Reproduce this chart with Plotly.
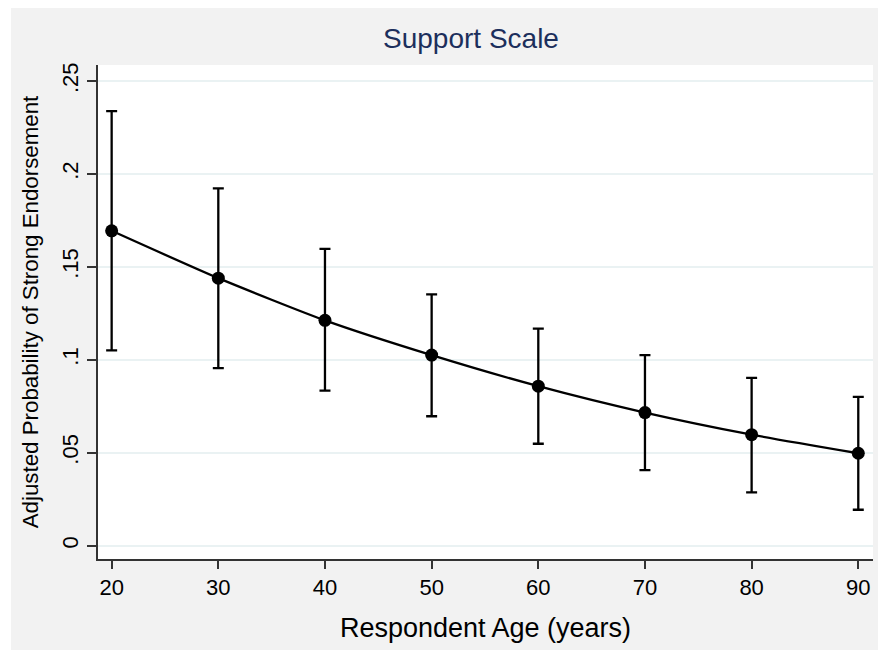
import plotly.graph_objects as go

ages = [20, 30, 40, 50, 60, 70, 80, 90]
prob = [0.1694, 0.1439, 0.1212, 0.1025, 0.0858, 0.0716, 0.0597, 0.0497]
ci_upper = [0.2338, 0.1922, 0.1597, 0.1352, 0.1168, 0.1025, 0.0903, 0.0800]
ci_lower = [0.1050, 0.0955, 0.0834, 0.0696, 0.0548, 0.0406, 0.0287, 0.0193]

y_tickvals = [0, 0.05, 0.1, 0.15, 0.2, 0.25]
y_ticktext = ["0", ".05", ".1", ".15", ".2", ".25"]
x_tickvals = [20, 30, 40, 50, 60, 70, 80, 90]

err_plus = [u - p for u, p in zip(ci_upper, prob)]
err_minus = [p - l for p, l in zip(prob, ci_lower)]

fig = go.Figure()
fig.add_trace(go.Scatter(
    x=ages, y=prob, mode="lines+markers",
    line=dict(color="black", width=2.3, shape="spline", smoothing=0.6),
    marker=dict(color="black", size=13),
    error_y=dict(type="data", symmetric=False, array=err_plus, arrayminus=err_minus,
                 color="black", thickness=2.3, width=5.5),
    showlegend=False,
))

FONT = "Liberation Sans, Arial, sans-serif"
# page has an 8px body margin, so the figure is drawn 8px right/down
W, H = 878, 642
L, R, T, B = 90, 13, 57, 91
pw, ph = W - L - R, H - T - B

def fx(px):
    return (px - L) / pw

def fy(py):
    return (H - B - py) / ph

shapes = [
    dict(type="rect", xref="paper", yref="paper", x0=fx(0), x1=fx(3), y0=fy(H), y1=fy(0),
         fillcolor="white", line=dict(width=0), layer="below"),
]

fig.update_layout(
    width=W, height=H,
    margin=dict(l=L, r=R, t=T, b=B),
    paper_bgcolor="#f2f2f2",
    plot_bgcolor="white",
    font=dict(family=FONT, color="black"),
    title=dict(text="Support Scale", x=463 / W, xanchor="center", xref="container",
               y=1 - 30 / H, yref="container", yanchor="middle",
               font=dict(size=28, color="#1c2f5c", family=FONT)),
    shapes=shapes,
    xaxis=dict(
        range=[18.72, 91.38], tickvals=x_tickvals,
        ticks="outside", ticklen=8, tickwidth=1.5, tickcolor="#333333",
        showline=True, linecolor="#333333", linewidth=1.5,
        showgrid=False, zeroline=False,
        tickfont=dict(size=22, family=FONT),
        title=dict(text="Respondent Age (years)", font=dict(size=27, family=FONT), standoff=19),
        automargin=False,
    ),
    yaxis=dict(
        range=[-0.0072, 0.2586], tickvals=y_tickvals, ticktext=y_ticktext,
        tickangle=-90,
        ticks="outside", ticklen=9, tickwidth=1.5, tickcolor="#333333",
        showline=True, linecolor="#333333", linewidth=1.5,
        showgrid=True, gridcolor="#eaf2f3", gridwidth=1.5, zeroline=False,
        tickfont=dict(size=22, family=FONT),
        title=dict(text="Adjusted Probability of Strong Endorsement",
                   font=dict(size=22.3, family=FONT), standoff=14),
        automargin=False,
    ),
)

fig.write_html("out.html")
